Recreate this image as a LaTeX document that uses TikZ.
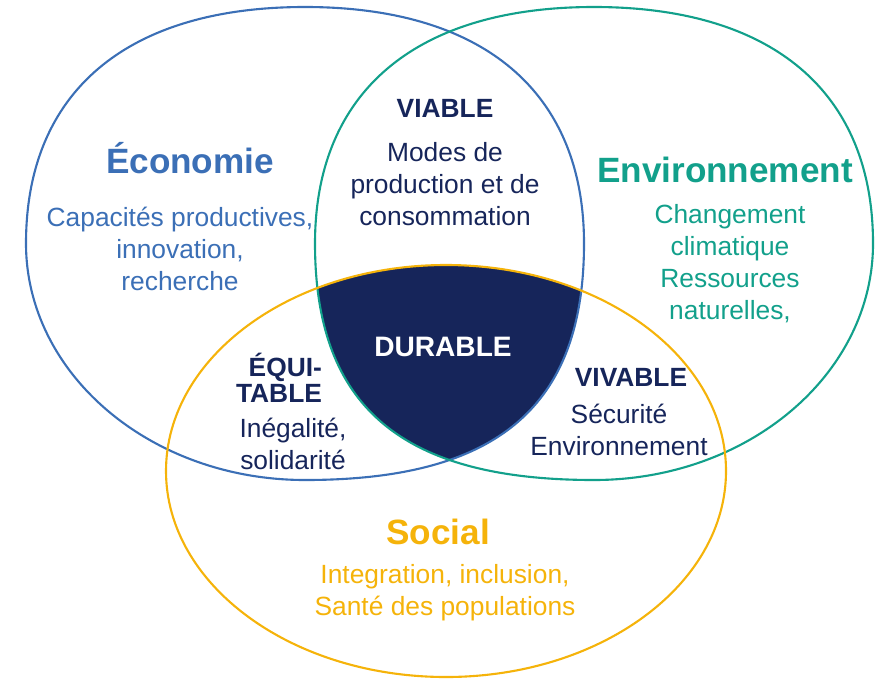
\documentclass[tikz,border=0pt]{standalone}
\usepackage{fontspec}
\setmainfont{Liberation Sans}
\usepackage{xcolor}
\definecolor{ecoblue}{HTML}{3B6FB6}
\definecolor{envteal}{HTML}{12A08B}
\definecolor{socyellow}{HTML}{F5B30A}
\definecolor{navy}{HTML}{16255A}
\newcommand{\ecoshape}{(26,243.5) .. controls (26,92.1) and (126.4,7) .. (305,7)
    .. controls (483.6,7) and (584,92.1) .. (584,243.5)
    .. controls (584,406.7) and (497.5,480) .. (305,480)
    .. controls (150.9,480) and (26,374.1) .. cycle}
\newcommand{\envshape}{(315,243.5) .. controls (315,92.1) and (415.4,7) .. (594,7)
    .. controls (772.6,7) and (873,92.1) .. (873,243.5)
    .. controls (873,374.1) and (748.1,480) .. (594,480)
    .. controls (401.5,480) and (315,406.7) .. cycle}

\begin{document}
\begin{tikzpicture}[x=0.02cm,y=-0.02cm,
    every node/.style={inner sep=0,outer sep=0,align=center},
    ring/.style={line width=1.2pt},
    title/.style={font=\fontsize{20}{24}\selectfont\bfseries},
    body/.style={font=\fontsize{15}{18.2}\selectfont},
    zone/.style={font=\fontsize{15}{15}\selectfont\bfseries,text=navy}]
    \useasboundingbox (0,0) rectangle (884,679);
    \coordinate (soc) at (446,471);

    \begin{scope}
        \clip \ecoshape;
        \clip \envshape;
        \fill[navy] (soc) ellipse [x radius=280,y radius=206];
    \end{scope}
    \draw[ring,ecoblue] \ecoshape;
    \draw[ring,envteal] \envshape;
    \draw[ring,socyellow] (soc) ellipse [x radius=280,y radius=206];

    \node[title,text=ecoblue](ecot) at (190,158) {Économie};
    \node[body,text=ecoblue](ecob) at (180,249) {Capacités productives,\\innovation,\\recherche};
    \node[title,text=envteal](envt) at (725,170) {Environnement};
    \node[body,text=envteal](envb) at (730,264) {Changement\\climatique\\Ressources\\naturelles,};
    \node[title,text=socyellow](soct) at (438,532) {Social};
    \node[body,text=socyellow](socb) at (445,593) {Integration, inclusion,\\Santé des populations};

    \node[zone](via) at (445,108) {VIABLE};
    \node[body,text=navy](viab) at (445,184) {Modes de\\production et de\\consommation};
    \node[zone,align=right](equ) at (279,378) {ÉQUI-\\TABLE};
    \node[body,text=navy](equb) at (293,444) {Inégalité,\\solidarité};
    \node[zone](viv) at (631,377) {VIVABLE};
    \node[body,text=navy](vivb) at (619,430) {Sécurité\\Environnement};
    \node[font=\fontsize{16}{16}\selectfont\bfseries,text=white](dur) at (443,347) {DURABLE};
\end{tikzpicture}
\end{document}
